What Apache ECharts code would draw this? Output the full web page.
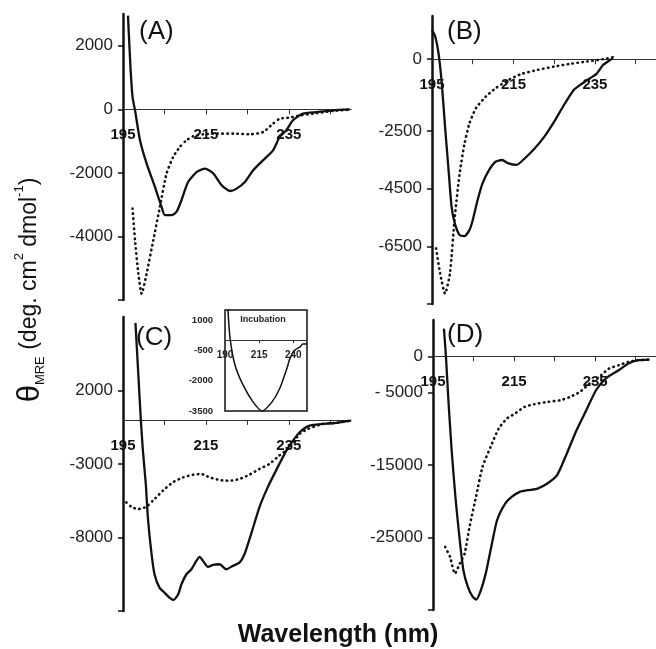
<!DOCTYPE html>
<html>
<head>
<meta charset="utf-8">
<script src="https://cdn.jsdelivr.net/npm/echarts@6/dist/echarts.min.js"></script>
<style>
html,body{margin:0;padding:0;background:#fff;}
#chart{width:656px;height:649px;}
</style>
</head>
<body>
<div id="chart"></div>
<script>
// ---------- DATA (wavelength in nm, ellipticity in deg cm2 dmol-1) ----------
const xLabelValues = [195, 215, 235];
const xTickValues = [205, 215, 225, 235, 245];

const aSolidNm  = [196.2, 196.8, 197.3, 197.9, 199.1, 200.7, 202.7, 204.3, 205.1, 206.7, 207.9, 209.1, 210.7, 212.8, 214.8, 216.8, 218.8, 220.8, 222.4, 224.4, 226.4, 228.8, 231.2, 232.8, 234.4, 236, 238.4, 241.7, 245.7, 249.7];
const aSolidVal = [2950, 1330, 390, -30, -975, -1710, -2440, -3070, -3330, -3330, -3230, -2860, -2285, -1970, -1865, -2020, -2390, -2570, -2495, -2285, -1920, -1600, -1290, -870, -660, -345, -135, -85, -30, 0];
const aDotNm    = [197.3, 197.9, 198.7, 199.5, 200.7, 202.3, 203.9, 205.5, 207.1, 208.7, 210.3, 211.9, 214.4, 217.6, 221.6, 225.6, 228.8, 231.2, 232.8, 235.2, 237.7, 240.9, 245.7, 249.7];
const aDotVal   = [-3120, -4120, -5170, -5800, -5170, -4120, -3070, -2020, -1500, -1185, -975, -850, -785, -765, -765, -785, -715, -450, -295, -260, -190, -135, -50, -10];
const aYLabels  = [2000, 0, -2000, -4000];

const bSolidNm  = [195, 195.8, 196.6, 197.4, 198.2, 199, 199.8, 200.6, 201.8, 203, 204.2, 205, 206.2, 207.4, 209, 210.6, 212.2, 213.8, 215.8, 217.8, 220.2, 222.6, 225, 227.4, 229.8, 231.4, 233.8, 235.4, 237, 238.2, 239.4];
const bSolidVal = [1020, 790, 210, -830, -2340, -3730, -5120, -5700, -6110, -6140, -5930, -5590, -4890, -4310, -3850, -3560, -3500, -3620, -3670, -3440, -3100, -2690, -2170, -1590, -1070, -890, -660, -510, -200, -80, 35];
const bDotNm    = [196, 197, 198.2, 199.4, 200.6, 201.8, 203, 204.2, 205.8, 208.2, 210.6, 213.8, 217, 221, 225, 229, 233, 237, 239.4];
const bDotVal   = [-6570, -7440, -8140, -7440, -5470, -3960, -2920, -2225, -1700, -1300, -1010, -720, -510, -370, -255, -160, -80, 0, 70];
const bYLabels  = [0, -2500, -4500, -6500];

const cSolidNm  = [198.0, 198.6, 199.3, 199.8, 200.5, 201, 201.8, 202.6, 203.8, 205, 206.2, 207.2, 208.3, 209.1, 210.3, 211.5, 212.7, 213.5, 214.3, 215.5, 216.7, 218.3, 219.9, 221.5, 223.1, 224.3, 225.9, 227.9, 229.9, 231.9, 234.4, 236, 237.6, 240, 243.2, 246.4, 250];
const cSolidVal = [6600, 3590, 0, -2090, -4360, -6640, -8910, -10500, -11410, -11750, -12090, -12250, -11870, -11180, -10500, -10160, -9590, -9320, -9590, -10000, -9870, -9820, -10160, -9930, -9710, -9140, -7770, -5950, -4590, -3450, -2090, -1410, -840, -390, -270, -200, -50];
const cDotNm    = [195.8, 197, 198.6, 200.6, 202.2, 204.6, 207, 209.5, 211.9, 213.9, 215.9, 218.3, 220.7, 223.1, 225.5, 227.9, 230.3, 232.7, 235.2, 237.6, 239.6, 243.2, 246.4, 250];
const cDotVal   = [-5610, -5910, -6070, -5910, -5500, -4820, -4250, -3910, -3730, -3680, -3910, -4090, -4140, -4020, -3730, -3340, -3000, -2430, -1860, -955, -615, -275, -205, -45];
const cYLabels  = [2000, -3000, -8000];

const dSolidNm  = [197.7, 198.2, 198.8, 199.6, 200.6, 201.6, 202.5, 203.6, 204.8, 205.7, 206.8, 208, 209.2, 210.8, 212.8, 214.4, 216.4, 218.4, 220.8, 223.2, 225.6, 228, 230.4, 232.8, 235.2, 237.6, 240.8, 243.2, 245.6, 248.4];
const dSolidVal = [3800, -90, -6070, -12970, -19860, -25380, -29520, -31820, -33200, -33550, -32280, -29980, -26760, -22620, -20320, -19400, -18710, -18480, -18250, -17560, -16410, -13430, -10210, -7450, -4690, -3080, -1930, -1010, -550, -460];
const dDotNm    = [198, 199.2, 200.4, 201.6, 202.8, 204, 205.6, 207.2, 209.2, 211.2, 213.2, 215.2, 217.6, 220, 223.2, 226.4, 228.8, 231.2, 233.6, 236, 238.4, 240.8, 243.2, 245.6, 248.4];
const dDotVal   = [-26300, -27680, -29980, -28600, -27220, -23540, -19400, -15270, -12510, -9980, -8600, -7910, -6990, -6620, -6300, -6070, -5610, -4920, -3770, -2850, -1700, -1240, -780, -550, -460];
const dYLabels  = [0, -5000, -15000, -25000];

const insetNm   = [192.0, 193.7, 197.3, 203.2, 210.5, 217.1, 224.4, 230.2, 235.4, 237.6, 241.2, 244.9, 247, 250];
const insetVal  = [1700, 110, -1220, -2210, -3050, -3500, -3050, -2360, -1370, -880, -480, -330, -180, -180];
const insetXLabels = [190, 215, 240];
const insetXTicks  = [215, 240];
const insetYLabels = [1000, -500, -2000, -3500];

// ---------- CHART ----------
const zip = (xs, ys) => xs.map((x, i) => [x, ys[i]]);
const FONT = 'Liberation Sans, Arial, sans-serif';
const INK = '#111';
const plain = v => String(v);

const yRanges = [[-6000, 3000], [-8500, 1500], [-13000, 7000], [-35000, 5000], [-3500, 1500]];
const grids = [
  {left: 123, top: 14,  width: 228, height: 286},
  {left: 432, top: 16,  width: 228, height: 288},
  {left: 123, top: 317, width: 228, height: 294},
  {left: 433, top: 320, width: 228, height: 290},
  {left: 225, top: 310, width: 82,  height: 101, show: true, borderColor: INK, borderWidth: 1.5, backgroundColor: '#fff'}
];
// shift each x axis (line, ticks and labels) up to the y = 0 level of its grid
const zeroOffset = i => -grids[i].height * (0 - yRanges[i][0]) / (yRanges[i][1] - yRanges[i][0]);

function mainX(i) {
  return {
    type: 'value', gridIndex: i, min: 195, max: 250, position: 'bottom', offset: zeroOffset(i),
    axisLine: {onZero: false, lineStyle: {color: '#333', width: 1}},
    axisTick: {show: true, length: 5, customValues: xTickValues, lineStyle: {color: '#333', width: 1}},
    axisLabel: {customValues: xLabelValues, fontSize: 15, fontWeight: 'bold', color: INK, margin: 18, fontFamily: FONT, formatter: plain},
    splitLine: {show: false}
  };
}
function mainY(i, labels, fmt) {
  const min = yRanges[i][0], max = yRanges[i][1];
  return {
    type: 'value', gridIndex: i, min: min, max: max,
    axisLine: {show: true, onZero: false, lineStyle: {color: INK, width: 2.5}},
    axisTick: {show: true, length: 5, customValues: labels.concat([min]), lineStyle: {color: INK, width: 1.5}},
    axisLabel: {customValues: labels, fontSize: 17, color: '#222', margin: 10, fontFamily: FONT, formatter: fmt || plain},
    splitLine: {show: false}
  };
}

const solid = (xi, nm, val) => ({
  type: 'line', xAxisIndex: xi, yAxisIndex: xi, data: zip(nm, val),
  showSymbol: false, symbol: 'none', smooth: 0.2, clip: true,
  lineStyle: {color: INK, width: 2.3}
});
const dotted = (xi, nm, val) => ({
  type: 'line', xAxisIndex: xi, yAxisIndex: xi, data: zip(nm, val),
  showSymbol: false, symbol: 'none', smooth: 0.2, clip: true,
  lineStyle: {color: INK, width: 2.6, type: [0.5, 4.5], cap: 'round'}
});

const option = {
  backgroundColor: '#fff',
  animation: false,
  grid: grids,
  xAxis: [
    mainX(0), mainX(1), mainX(2), mainX(3),
    {
      type: 'value', gridIndex: 4, min: 190, max: 250, position: 'bottom', offset: zeroOffset(4),
      axisLine: {onZero: false, lineStyle: {color: '#333', width: 1}},
      axisTick: {show: true, length: 3, customValues: insetXTicks, lineStyle: {color: '#333'}},
      axisLabel: {customValues: insetXLabels, fontSize: 10, fontWeight: 'bold', color: '#222', margin: 10, fontFamily: FONT, formatter: plain},
      splitLine: {show: false}
    }
  ],
  yAxis: [
    mainY(0, aYLabels),
    mainY(1, bYLabels),
    mainY(2, cYLabels),
    mainY(3, dYLabels, v => (v === -5000 ? '- 5000' : String(v))),
    {
      type: 'value', gridIndex: 4, min: yRanges[4][0], max: yRanges[4][1],
      axisLine: {show: false, onZero: false},
      axisTick: {show: false},
      axisLabel: {customValues: insetYLabels, fontSize: 9.5, fontWeight: 'bold', color: '#222', margin: 12, fontFamily: FONT, formatter: plain},
      splitLine: {show: false}
    }
  ],
  series: [
    solid(0, aSolidNm, aSolidVal), dotted(0, aDotNm, aDotVal),
    solid(1, bSolidNm, bSolidVal), dotted(1, bDotNm, bDotVal),
    solid(2, cSolidNm, cSolidVal), dotted(2, cDotNm, cDotVal),
    solid(3, dSolidNm, dSolidVal), dotted(3, dDotNm, dDotVal),
    {
      type: 'line', xAxisIndex: 4, yAxisIndex: 4, data: zip(insetNm, insetVal),
      showSymbol: false, symbol: 'none', smooth: 0.25, clip: true,
      lineStyle: {color: INK, width: 1.5}, z: 5
    }
  ],
  graphic: [
    {type: 'text', x: 139, y: 32, style: {text: '(A)', font: '26px ' + FONT, fill: INK, align: 'left', verticalAlign: 'middle'}},
    {type: 'text', x: 447, y: 32, style: {text: '(B)', font: '26px ' + FONT, fill: INK, align: 'left', verticalAlign: 'middle'}},
    {type: 'text', x: 136, y: 338, style: {text: '(C)', font: '26px ' + FONT, fill: INK, align: 'left', verticalAlign: 'middle'}},
    {type: 'text', x: 447, y: 335, style: {text: '(D)', font: '26px ' + FONT, fill: INK, align: 'left', verticalAlign: 'middle'}},
    {type: 'text', x: 263, y: 320, z: 10, style: {text: 'Incubation', font: 'bold 9px ' + FONT, fill: '#222', align: 'center', verticalAlign: 'middle'}},
    {type: 'text', x: 338, y: 635, style: {text: 'Wavelength (nm)', font: 'bold 25px ' + FONT, fill: INK, align: 'center', verticalAlign: 'middle'}},
    {
      type: 'text', x: 30, y: 290, rotation: Math.PI / 2,
      style: {
        text: '{t|θ}{s|MRE}{n| (deg. cm}{p|2}{n| dmol}{p|-1}{n|)}',
        align: 'center', verticalAlign: 'middle', fill: INK,
        rich: {
          t: {fontSize: 31, fontFamily: FONT, lineHeight: 34, verticalAlign: 'middle', fill: INK},
          s: {fontSize: 13, fontFamily: FONT, lineHeight: 13, verticalAlign: 'bottom', fill: INK},
          n: {fontSize: 23, fontFamily: FONT, lineHeight: 26, verticalAlign: 'middle', fill: INK},
          p: {fontSize: 13, fontFamily: FONT, lineHeight: 15, verticalAlign: 'top', fill: INK}
        }
      }
    }
  ]
};

const chart = echarts.init(document.getElementById('chart'), null, {renderer: 'canvas'});
chart.setOption(option);
</script>
</body>
</html>
